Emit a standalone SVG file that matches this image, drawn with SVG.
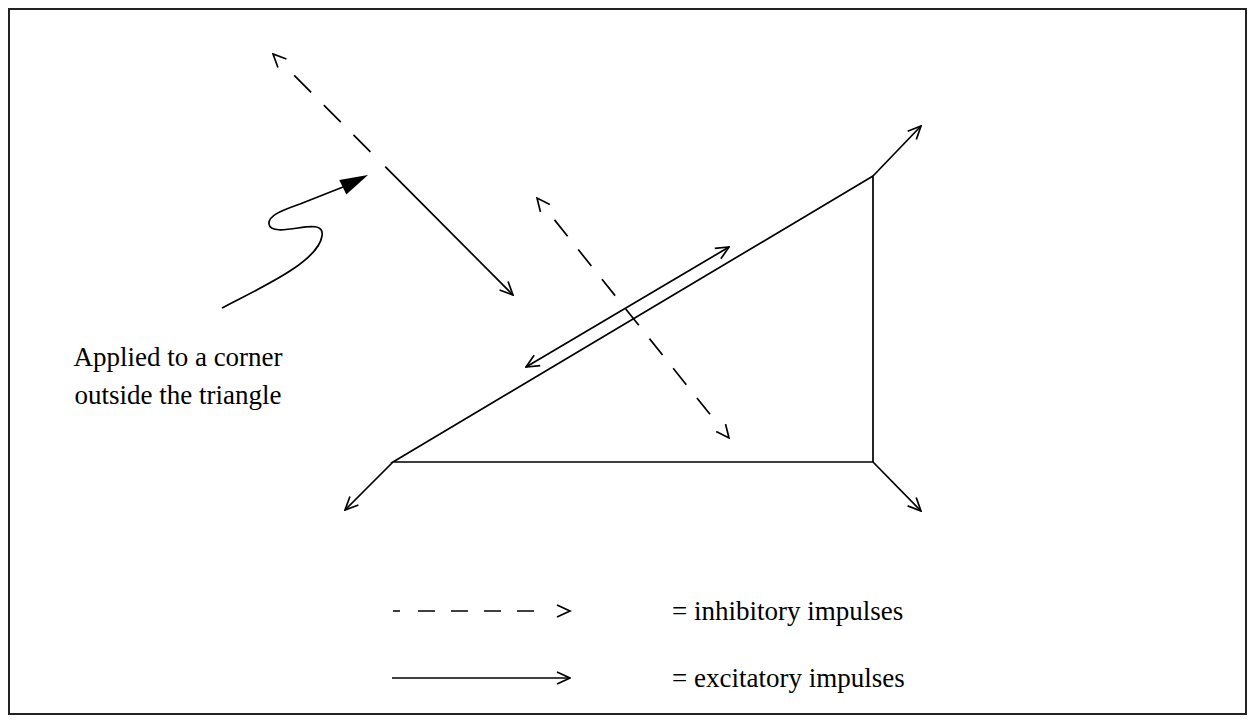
<svg xmlns="http://www.w3.org/2000/svg" width="1256" height="723" viewBox="0 0 1256 723">
<style>
  .ln { fill: none; stroke: #000; stroke-width: 1.7; }
  .txt { font-family: "Liberation Serif", "Times New Roman", serif; font-size: 27px; fill: #000; }
</style>
<defs>
  <marker id="open" viewBox="0 0 15 14" refX="14" refY="7" markerWidth="15" markerHeight="14" markerUnits="userSpaceOnUse" orient="auto-start-reverse">
    <path d="M1,1 L14,7 L1,13" fill="none" stroke="#000" stroke-width="1.7" stroke-dasharray="none"/>
  </marker>
</defs>
<rect x="9" y="9" width="1237" height="705" fill="#fff" stroke="#222" stroke-width="2"/>

<g id="triangle">
  <polygon points="393,462 873,176 873,462" class="ln"/>
</g>

<g id="connectors">
  <!-- corner excitatory arrows -->
  <line x1="393" y1="462" x2="345" y2="510" class="ln" marker-end="url(#open)"/>
  <line x1="873" y1="176" x2="921" y2="126" class="ln" marker-end="url(#open)"/>
  <line x1="873" y1="462" x2="921" y2="511" class="ln" marker-end="url(#open)"/>
  <!-- double excitatory arrow along hypotenuse -->
  <line x1="526" y1="367" x2="729" y2="247" class="ln" marker-start="url(#open)" marker-end="url(#open)"/>
  <!-- stimulus line: inhibitory part -->
  <line x1="294" y1="75" x2="273" y2="54" class="ln" stroke-dasharray="0 30" marker-end="url(#open)"/>
  <line x1="294.2" y1="75.3" x2="370.4" y2="151.8" class="ln" stroke-dasharray="24 18"/>
  <!-- stimulus line: excitatory part -->
  <line x1="385.2" y1="166.7" x2="513" y2="295" class="ln" marker-end="url(#open)"/>
  <!-- inhibitory across hypotenuse -->
  <line x1="554.5" y1="219.9" x2="537" y2="198" class="ln" stroke-dasharray="0 40" marker-end="url(#open)"/>
  <line x1="554.5" y1="219.9" x2="710" y2="414.3" class="ln" stroke-dasharray="21 17"/>
  <line x1="710" y1="414.3" x2="729" y2="438" class="ln" stroke-dasharray="0 40" marker-end="url(#open)"/>
  <!-- applied stimulus squiggle -->
  <path d="M222,308 C262,287 318,262 322,236 C324,224 310,226 298,228 C285,230 270,232 269,224 C268,216 280,211 300,204 L343,187" class="ln"/>
  <polygon points="368,175 339.3,180.1 346.3,194.5" fill="#000"/>
</g>

<g id="label-applied">
  <text class="txt" x="178" y="366" text-anchor="middle">Applied to a corner</text>
  <text class="txt" x="178" y="404" text-anchor="middle">outside the triangle</text>
</g>

<g id="legend">
  <path d="M393,611 H400 M418,611 H435 M451,611 H468 M484,611 H501 M517,611 H534" class="ln"/>
  <path d="M557,605 L570,611 L557,617" class="ln"/>
  <text class="txt" x="672" y="620">= inhibitory impulses</text>
  <line x1="392" y1="678" x2="570" y2="678" class="ln" marker-end="url(#open)"/>
  <text class="txt" x="672" y="687">= excitatory impulses</text>
</g>
</svg>
